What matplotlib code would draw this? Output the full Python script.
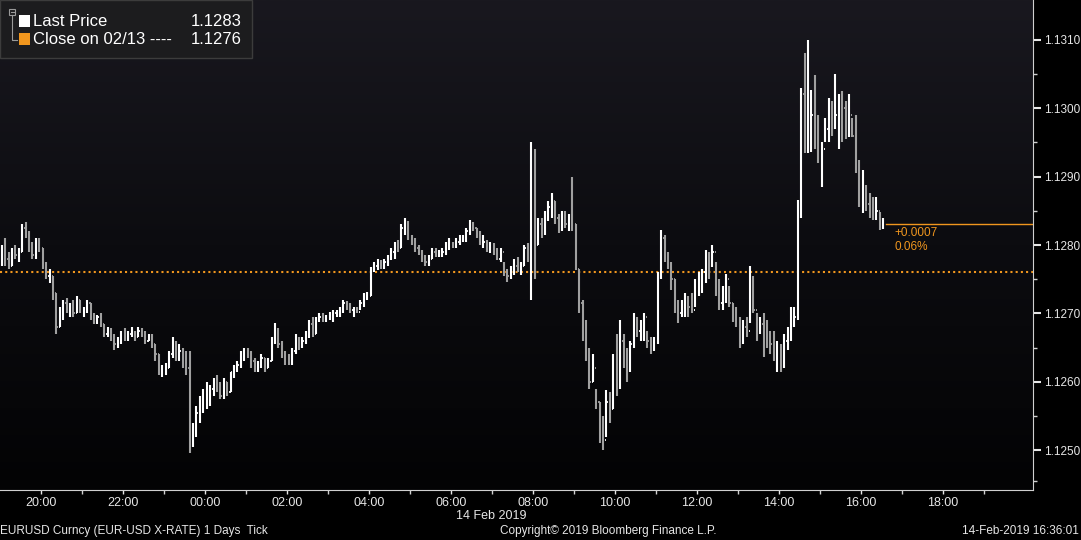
import numpy as np
import matplotlib
matplotlib.use("Agg")
import matplotlib.pyplot as plt
from matplotlib.colors import LinearSegmentedColormap
from matplotlib.patches import Rectangle

plt.rcParams['font.family'] = ['Liberation Sans', 'DejaVu Sans']

# EURUSD 5-minute bars from 19:00 (13 Feb) to 16:30 (14 Feb), in pips above 1.1200
base = 1.1200
first_open = 78.5
bar_high = [
    80, 81, 79, 79.5, 80, 79.5, 83, 83.3, 82, 80.5, 81, 81, 79.5, 77.5, 76.5, 75.5, 73, 71, 72, 72.2,
    71.5, 72, 72.5, 72, 71, 72, 71.5, 70, 69.8, 70, 68.5, 68, 67.8, 67, 66.5, 67.5, 67.8, 67.5, 68, 67.5,
    68, 67.8, 67.5, 67, 67, 65.5, 64, 62.5, 62.7, 64.5, 66.5, 66, 65.5, 65, 64.5, 64.5, 54, 56.5, 58, 59,
    60, 59.5, 60.5, 61, 60, 60.5, 60, 61.5, 62.5, 63, 64.5, 65, 65, 64.5, 63.5, 63, 64, 63.5, 63.5, 66.5,
    68.6, 67.8, 66, 64.5, 64, 65, 67, 66.5, 66.5, 67.5, 69, 69.5, 69.5, 70, 70, 69.8, 70.2, 70.5, 70.5, 71,
    72, 71.8, 71.5, 71, 71, 72, 73, 73.2, 76.8, 77.5, 78, 77.8, 78, 78.5, 79.5, 80.4, 80.8, 83, 84, 83.5,
    81.5, 81, 80, 79.3, 78.5, 78.5, 79.5, 79.5, 79.2, 79.5, 80.5, 81, 80.5, 81, 81.5, 81.5, 82.5, 83.6, 83.3, 82.5,
    82, 81.5, 80.8, 80.5, 80.3, 79.5, 79.5, 77.5, 76.5, 77, 78, 78.2, 77.5, 80, 80.3, 95, 94, 84, 84, 85,
    86.5, 87.6, 86.5, 84.5, 85, 85, 84.5, 90, 83, 76.5, 72, 69, 65, 64, 59, 57, 55, 58.8, 58.5, 64,
    67, 69, 67, 65, 66, 70, 69.5, 69, 70, 67.5, 66.5, 66.5, 76, 82.2, 81.5, 79, 77.5, 75, 72, 72,
    73, 72.5, 73, 75, 76, 76.5, 79.3, 79, 80, 77.5, 75, 74, 75.7, 74, 71.5, 71, 69.5, 69, 69.5, 77,
    75.5, 70, 69.5, 70, 69, 67.5, 67.5, 66, 65.5, 67, 68, 71, 71, 86.6, 103, 108, 110, 102.6, 104.8, 99,
    95, 98.5, 101.5, 101, 105, 102, 102.5, 101, 102, 98.5, 99, 92.4, 91, 88.8, 87.6, 87, 87, 84.8, 84,
]
bar_low = [
    77, 77, 76.5, 77, 78, 77.5, 79, 81, 79, 78, 78, 79, 76.5, 75, 74.5, 72, 67, 68, 69, 70,
    69.5, 69.5, 70, 70, 69.5, 70, 69, 68.5, 68.5, 68, 66.5, 66.5, 66, 64.6, 65, 65.5, 66, 66, 66.5, 66,
    66.5, 66.5, 65.5, 66, 65, 63, 61, 60.7, 61, 62, 63.5, 63, 63, 62, 61, 49.6, 50.5, 52, 54, 55.5,
    56, 56.5, 58, 58.5, 57.5, 57.5, 58, 58.5, 60.5, 61.5, 62, 63, 63.5, 62, 61.5, 61.5, 62, 61.5, 62, 63,
    65.5, 65, 63.5, 62.5, 62.5, 62.5, 64, 64.6, 65, 65.5, 66.4, 66.5, 67, 68.7, 68.8, 68.7, 69, 68.8, 69.5, 69.5,
    70, 70.5, 70, 69.5, 70, 70.5, 71, 72, 72.5, 76, 76.3, 76.5, 76.5, 77, 77.8, 78, 79, 79.5, 81.5, 80.7,
    80, 79, 78.5, 77.5, 77, 77, 78, 78.2, 78.2, 78.3, 78.5, 79.3, 79.5, 79.5, 80, 80.5, 80.5, 81.5, 82, 81,
    80, 79.5, 79, 78.8, 78.5, 77.8, 77.5, 75.5, 74.6, 75, 75.6, 76, 75.6, 77, 77.5, 72, 75, 80, 81, 81.5,
    83.5, 84, 83, 81.7, 82, 82.5, 82, 82, 76.3, 70, 66, 63, 59, 60, 56, 51, 50, 52, 54, 56,
    58, 59, 62, 60, 61.5, 65, 66.5, 66, 66, 65, 64, 64.5, 65.5, 75, 77.5, 76.5, 73.4, 70, 68.6, 69.5,
    69.5, 69.5, 70, 71, 72.5, 73, 74.5, 75, 76.8, 72.5, 70.5, 70.5, 71.5, 71, 68.7, 68, 65, 65.5, 66.5, 68.6,
    70, 66, 67, 63.6, 65, 64, 63, 61.5, 61.4, 62, 64.6, 66, 68, 69, 84, 93.5, 93.5, 93.6, 94, 92,
    88.5, 95, 95, 96, 97, 94, 95, 95.5, 95.8, 95.8, 90.5, 85.5, 84.7, 85, 84, 83.6, 83.6, 82.2, 82.4,
]
bar_close = [
    79.5, 78, 77, 79, 78.5, 79, 82.5, 81.5, 79.5, 78.5, 80.5, 79.5, 77, 75.5, 75.5, 73, 68, 70.5, 71.5, 70.5,
    71, 70, 72, 70.5, 70.5, 71.5, 69.5, 69, 69.5, 68.5, 67, 67.5, 66.5, 65.5, 66, 67, 66.5, 67, 67, 66.5,
    67.5, 67, 66, 66.5, 65.5, 64, 61.5, 61.5, 62, 64, 65.5, 64, 64.5, 63, 62, 51, 53.5, 55.5, 57, 57.5,
    58.5, 59, 60, 59.5, 58, 60, 58.5, 61.5, 62, 62.5, 64, 64.5, 64, 63, 62, 62.5, 63.5, 62, 63, 66,
    67.5, 65.5, 64, 63.5, 63, 64.5, 66, 65.5, 66, 67, 68.5, 67, 69, 69.5, 69, 69.5, 69.8, 70, 70.2, 70.5,
    71.5, 71, 70.5, 70.5, 70.2, 71.5, 72.5, 72.5, 76.5, 77, 77.5, 76.8, 77.5, 78, 79, 80, 79.5, 82.5, 83, 81,
    80.5, 79.5, 79, 78, 77.5, 78, 79, 78.5, 78.8, 79, 80, 80, 79.8, 80.5, 81, 81, 82, 83, 82.5, 81.5,
    80.5, 80.5, 79.5, 80, 79, 78, 79, 76, 75.5, 76.5, 77, 76.5, 77, 79.5, 78, 89, 80, 83, 82.5, 84.5,
    85.5, 86.5, 84, 82.5, 84, 83, 84, 83, 76.5, 71.5, 67, 64, 60, 62, 57, 53, 51.5, 57, 56, 62,
    59.5, 66, 63, 62.5, 65.5, 69, 67.5, 68, 69.5, 66, 65, 66, 75.5, 81, 78.5, 77, 75, 71, 70, 70.5,
    72, 71, 70.5, 74.5, 75, 76, 78, 77, 79, 73, 71.5, 73, 75, 71.5, 69.5, 69, 66, 68, 67.5, 74,
    70.5, 68, 68.5, 67, 66, 65.5, 64, 64.5, 62.5, 66, 67, 68.5, 69.5, 85, 102, 97, 99, 99, 96, 93,
    94, 97, 99, 98, 99, 101, 100, 97, 99, 96, 92, 87, 88, 86, 85, 84, 85, 83, 83,
]
bar_minutes = [5 * i + 2.5 for i in range(len(bar_close))]

prev_close = 76.0   # close on 02/13 -> 1.1276
last_price = 83.0   # 1.1283
hour_labels = ['20:00', '22:00', '00:00', '02:00', '04:00', '06:00', '08:00',
               '10:00', '12:00', '14:00', '16:00', '18:00']

W, H = 1081, 540
fig = plt.figure(figsize=(W / 100, H / 100), dpi=100, facecolor='black')
ax = fig.add_axes([0, 50 / H, 1033 / W, 490 / H])

xmax = 1033 / 41 * 60
ylo, yhi = 1.12442, 1.13158

# background gradient
cmap = LinearSegmentedColormap.from_list('bg', ['#19181f', '#0c0c10', '#030304'])
ax.imshow(np.linspace(0, 1, 256).reshape(-1, 1), extent=[0, xmax, ylo, yhi],
          aspect='auto', cmap=cmap, origin='upper', zorder=0)

hi = np.array(bar_high) / 1e4 + base
lo = np.array(bar_low) / 1e4 + base
cl = np.array(bar_close) / 1e4 + base
op = np.concatenate([[first_open], bar_close[:-1]]) / 1e4 + base
x = np.array(bar_minutes)
cols = ['#ffffff' if c >= o else '#a0a0a0' for o, c in zip(op, cl)]

ax.vlines(x, lo, hi, colors=cols, linewidth=1.5, zorder=3)
ax.hlines(op, x - 1.7, x, colors=cols, linewidth=1.3, zorder=3)
ax.hlines(cl, x, x + 1.7, colors=cols, linewidth=1.3, zorder=3)

orange = '#f0961e'
ax.axhline(base + prev_close / 1e4, color=orange, linewidth=1.5,
           linestyle=(0, (1, 1.5)), zorder=2)
ax.axhline(base + last_price / 1e4, xmin=886 / 1033, xmax=1, color=orange,
           linewidth=1.0, zorder=2)
ax.text(x[-1] + 16, base + last_price / 1e4 - 0.00003, '+0.0007', color=orange,
        fontsize=8.5, va='top', ha='left')
ax.text(x[-1] + 16, base + last_price / 1e4 - 0.00024, '0.06%', color=orange,
        fontsize=8.5, va='top', ha='left')

ax.set_xlim(0, xmax)
ax.set_ylim(ylo, yhi)

# axes styling
for s in ['top', 'left']:
    ax.spines[s].set_visible(False)
ax.spines['right'].set_color('#d0d0d0')
ax.spines['bottom'].set_color('#d0d0d0')
ax.yaxis.tick_right()
yt = [1.1250, 1.1260, 1.1270, 1.1280, 1.1290, 1.1300, 1.1310]
ax.set_yticks(yt)
ax.set_yticklabels([f'{v:.4f}' for v in yt])
ax.set_yticks([v + 0.0005 for v in yt[:-1]] + [1.12455], minor=True)
ax.tick_params(axis='y', which='major', colors='#e6e6e6', length=6, width=1.5,
               labelsize=8.5, pad=2)
ax.tick_params(axis='y', which='minor', colors='#d0d0d0', length=3, width=1)

xt = [60 + 120 * k for k in range(len(hour_labels))]
ax.set_xticks(xt)
ax.set_xticklabels(hour_labels)
ax.set_xticks([120 + 120 * k for k in range(len(hour_labels))], minor=True)
ax.tick_params(axis='x', which='major', colors='#e6e6e6', length=3, width=1,
               labelsize=9, pad=2)
ax.tick_params(axis='x', which='minor', colors='#d0d0d0', length=3, width=1)

# footer
fig.text(491 / W, 1 - 516 / H, '14 Feb 2019', color='#e6e6e6', fontsize=9,
         ha='center', va='center')
fig.text(0, 1 - 531 / H, 'EURUSD Curncy (EUR-USD X-RATE) 1 Days  Tick',
         color='#e6e6e6', fontsize=8.5, ha='left', va='center')
fig.text(608 / W, 1 - 531 / H, 'Copyright\u00a9 2019 Bloomberg Finance L.P.',
         color='#e6e6e6', fontsize=8.5, ha='center', va='center')
fig.text(1079 / W, 1 - 531 / H, '14-Feb-2019 16:36:01', color='#e6e6e6',
         fontsize=8.5, ha='right', va='center')

# legend box
def px(xp, yp):
    return xp / W, 1 - yp / H

fig.patches.append(Rectangle(px(0, 58), 252 / W, 58 / H, transform=fig.transFigure,
                             facecolor='#1c1c1e', edgecolor='#3c3c3c', linewidth=1, zorder=5))
fig.patches.append(Rectangle(px(9, 15), 6 / W, 6 / H, transform=fig.transFigure,
                             facecolor='none', edgecolor='#9a9a9a', linewidth=0.8, zorder=6))
fig.add_artist(plt.Line2D([10.5 / W, 13.5 / W], [1 - 12 / H, 1 - 12 / H],
                          transform=fig.transFigure, color='#9a9a9a', linewidth=0.8, zorder=8))
fig.add_artist(plt.Line2D([12 / W, 12 / W, 17 / W], [1 - 15 / H, 1 - 40 / H, 1 - 40 / H],
                          transform=fig.transFigure, color='#9a9a9a', linewidth=0.8, zorder=8))
fig.patches.append(Rectangle(px(19, 27), 11 / W, 12 / H, transform=fig.transFigure,
                             facecolor='white', edgecolor='none', zorder=6))
fig.patches.append(Rectangle(px(19, 45), 11 / W, 12 / H, transform=fig.transFigure,
                             facecolor=orange, edgecolor='none', zorder=6))
fig.text(33 / W, 1 - 21 / H, 'Last Price', color='white', fontsize=12,
         ha='left', va='center', zorder=7)
fig.text(242 / W, 1 - 21 / H, '1.1283', color='white', fontsize=12,
         ha='right', va='center', zorder=7)
fig.text(33 / W, 1 - 40 / H, 'Close on 02/13 ----', color='white', fontsize=12,
         ha='left', va='center', zorder=7)
fig.text(242 / W, 1 - 40 / H, '1.1276', color='white', fontsize=12,
         ha='right', va='center', zorder=7)

fig.savefig('out.png', dpi=100, facecolor='black')
